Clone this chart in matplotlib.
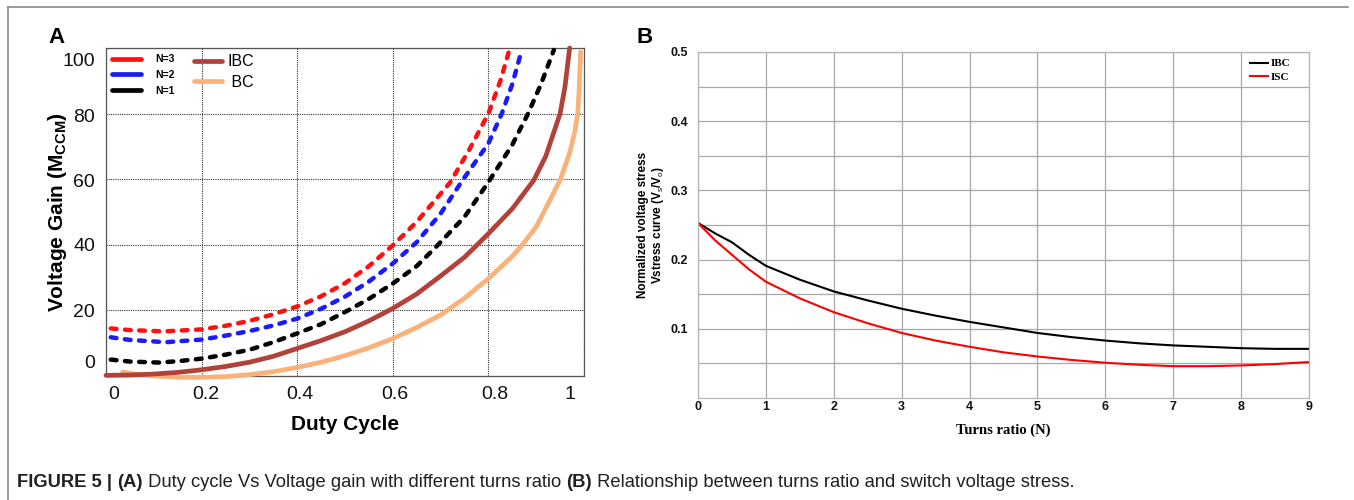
import matplotlib
matplotlib.use("Agg")
import matplotlib.pyplot as plt
from matplotlib.lines import Line2D
from matplotlib import font_manager as fm
from matplotlib.transforms import ScaledTranslation

# ---- Panel A: voltage gain vs duty cycle ----
d_n3 = [0.01, 0.05, 0.12, 0.20, 0.25, 0.30, 0.35, 0.40, 0.45, 0.50, 0.55, 0.60, 0.65, 0.72, 0.76, 0.80, 0.825, 0.845]
g_n3 = [14.5, 14.0, 13.6, 14.2, 15.3, 16.8, 18.8, 21.2, 24.3, 28.3, 33.5, 39.8, 47.0, 59.0, 69.0, 80.0, 90.0, 100.0]

d_n2 = [0.01, 0.05, 0.125, 0.20, 0.25, 0.30, 0.35, 0.40, 0.45, 0.50, 0.55, 0.60, 0.65, 0.70, 0.746, 0.80, 0.828, 0.85, 0.87]
g_n2 = [11.8, 11.0, 10.3, 11.1, 12.3, 13.7, 15.4, 17.5, 20.5, 24.2, 28.8, 34.3, 40.8, 49.5, 59.7, 70.9, 80.0, 89.0, 99.5]

d_n1 = [0.01, 0.05, 0.11, 0.15, 0.20, 0.25, 0.30, 0.35, 0.40, 0.45, 0.50, 0.55, 0.60, 0.65, 0.69, 0.75, 0.80, 0.85, 0.883, 0.91, 0.937]
g_n1 = [5.0, 4.4, 4.1, 4.5, 5.3, 6.5, 8.0, 10.3, 13.0, 15.8, 19.5, 23.5, 28.2, 33.5, 39.3, 48.5, 59.1, 70.5, 80.0, 89.0, 99.4]

d_ibc = [0.0, 0.05, 0.10, 0.15, 0.20, 0.25, 0.30, 0.35, 0.40, 0.45, 0.50, 0.55, 0.60, 0.65, 0.70, 0.75, 0.80, 0.85, 0.895, 0.92, 0.95, 0.96, 0.97]
g_ibc = [0.2, 0.3, 0.6, 1.1, 1.9, 2.9, 4.2, 6.0, 8.4, 10.8, 13.5, 16.8, 20.6, 25.0, 30.5, 36.2, 43.4, 51.0, 59.7, 67.0, 80.0, 88.0, 100.0]

d_bc = [0.035, 0.06, 0.10, 0.15, 0.20, 0.25, 0.30, 0.35, 0.40, 0.45, 0.50, 0.55, 0.60, 0.65, 0.70, 0.75, 0.80, 0.85, 0.87, 0.90, 0.93, 0.95, 0.97, 0.98, 0.987, 0.99, 0.993]
g_bc = [1.2, 0.6, 0.0, -0.4, -0.4, -0.2, 0.4, 1.3, 2.6, 4.2, 6.2, 8.6, 11.4, 14.8, 18.6, 23.7, 29.7, 36.5, 39.8, 45.5, 54.0, 59.7, 68.0, 74.0, 80.0, 88.0, 98.8]

a_xticks = [0, 0.2, 0.4, 0.6, 0.8, 1]
a_xlabels = ["0", "0.2", "0.4", "0.6", "0.8", "1"]
a_yticks = [0, 20, 40, 60, 80, 100]

# ---- Panel B: normalized switch voltage stress vs turns ratio ----
n_ratio = [0, 0.25, 0.5, 0.75, 1, 1.5, 2, 2.5, 3, 3.5, 4, 4.5, 5, 5.5, 6, 6.5, 7, 7.5, 8, 8.5, 9]
s_ibc = [0.253, 0.238, 0.225, 0.207, 0.191, 0.171, 0.154, 0.141, 0.129, 0.119, 0.110, 0.102, 0.094, 0.088, 0.083, 0.079, 0.076, 0.074, 0.072, 0.071, 0.071]
s_isc = [0.253, 0.228, 0.207, 0.186, 0.168, 0.144, 0.124, 0.108, 0.094, 0.083, 0.074, 0.066, 0.060, 0.055, 0.051, 0.048, 0.046, 0.046, 0.047, 0.049, 0.052]

b_xticks = list(range(10))
b_yticks = [0.1, 0.2, 0.3, 0.4, 0.5]

caption_parts = [
    ("FIGURE 5 | ", "bold"),
    ("(A)", "bold"),
    (" Duty cycle Vs Voltage gain with different turns ratio ", "normal"),
    ("(B)", "bold"),
    (" Relationship between turns ratio and switch voltage stress.", "normal"),
]

names = {f.name for f in fm.fontManager.ttflist}
sans = "Liberation Sans Narrow" if "Liberation Sans Narrow" in names else "Liberation Sans"
plt.rcParams["font.family"] = ["Liberation Sans", "DejaVu Sans"]
plt.rcParams["mathtext.fontset"] = "custom"
plt.rcParams["mathtext.rm"] = "Liberation Sans"
plt.rcParams["mathtext.bf"] = "Liberation Sans:bold"

W, H = 1354, 500
fig = plt.figure(figsize=(W / 100, H / 100), dpi=100)


def fx(px):
    return px / W


def fy(py):
    return 1 - py / H


def nudge(label, dx_px, dy_px):
    label.set_transform(label.get_transform()
                        + ScaledTranslation(dx_px / 100, dy_px / 100, fig.dpi_scale_trans))


# outer frame (top and left edges)
fig.add_artist(Line2D([fx(8), fx(1348)], [fy(7), fy(7)], color="#8a8a8a", lw=1.2))
fig.add_artist(Line2D([fx(8), fx(8)], [fy(7), fy(500)], color="#8a8a8a", lw=1.2))

# ================= Panel A =================
axA = fig.add_axes([fx(106), fy(376), fx(584) - fx(106), fy(48) - fy(376)])
axA.set_xlim(0, 1)
axA.set_ylim(0, 100)

c_red, c_blue, c_black = "#ff1010", "#1a1aff", "#000000"
c_ibc, c_bc = "#b2413a", "#fbb27a"
dash_kw = dict(lw=3.2, dashes=(1.3, 1.9), dash_capstyle="round", clip_on=False)
axA.plot(d_bc, g_bc, color=c_bc, lw=3.4, solid_capstyle="round", clip_on=False, zorder=3)
axA.plot(d_ibc, g_ibc, color=c_ibc, lw=3.4, solid_capstyle="round", clip_on=False, zorder=4)
axA.plot(d_n1, g_n1, color=c_black, zorder=5, **dash_kw)
axA.plot(d_n2, g_n2, color=c_blue, zorder=5, **dash_kw)
axA.plot(d_n3, g_n3, color=c_red, zorder=5, **dash_kw)

axA.set_xticks(a_xticks)
axA.set_xticklabels(a_xlabels, fontsize=14, family=sans)
axA.set_yticks(a_yticks)
axA.set_yticklabels([str(v) for v in a_yticks], fontsize=14, family=sans)
axA.tick_params(axis="both", length=0, colors="#111111")
axA.tick_params(axis="x", pad=7)
axA.tick_params(axis="y", pad=8)
axA.grid(True, color="#333333", lw=0.8, ls=(0, (1, 1)))
for s in axA.spines.values():
    s.set_color("#555555")
    s.set_linewidth(0.9)
    s.set_linestyle((0, (1, 1)))
# hand-placed tick label offsets
for tk, dx in zip(axA.xaxis.get_major_ticks(), [8, 4, 3, 2, 6, -14]):
    nudge(tk.label1, dx, 0)
for tk, dy in zip(axA.yaxis.get_major_ticks(), [14, 0, 0, -1, -2, -12]):
    nudge(tk.label1, 0, dy)

axA.set_xlabel("Duty Cycle", fontsize=15, fontweight="bold", family=sans, labelpad=9)
axA.set_ylabel(r"Voltage Gain (M$_{\mathbf{CCM}}$)", fontsize=15, fontweight="bold", family=sans, labelpad=-5)

legA1 = axA.legend(
    [Line2D([], [], color=c, lw=3.4, solid_capstyle="round") for c in (c_red, c_blue, c_black)],
    ["N=3", "N=2", "N=1"],
    loc="upper left", bbox_to_anchor=(0.0, 1.0), frameon=False,
    prop=dict(family="Liberation Sans", weight="bold", size=7.5),
    handlelength=2.8, handletextpad=1.3, labelspacing=0.55, borderpad=0.4, borderaxespad=0.2,
)
axA.add_artist(legA1)
axA.legend(
    [Line2D([], [], color=c, lw=3.4, solid_capstyle="round") for c in (c_ibc, c_bc)],
    ["IBC", " BC"],
    loc="upper left", bbox_to_anchor=(0.17, 1.0), frameon=False,
    prop=dict(family=sans, size=11.5),
    handlelength=1.8, handletextpad=0.3, labelspacing=0.35, borderpad=0.2, borderaxespad=0.2,
)

fig.text(fx(48), fy(43), "A", fontsize=16, fontweight="bold", ha="left", va="baseline")

# ================= Panel B =================
axB = fig.add_axes([fx(698), fy(398), fx(1309) - fx(698), fy(52) - fy(398)])
axB.set_xlim(0, 9)
axB.set_ylim(0, 0.5)
axB.plot(n_ratio, s_ibc, color="#000000", lw=1.5, label="IBC")
axB.plot(n_ratio, s_isc, color="#ff0000", lw=1.5, label="ISC")

axB.set_xticks(b_xticks)
axB.set_xticklabels([str(v) for v in b_xticks], fontsize=9, fontweight="bold")
axB.set_yticks(b_yticks)
axB.set_yticklabels([f"{v:.1f}" for v in b_yticks], fontsize=9, fontweight="bold")
axB.set_yticks([0.05, 0.15, 0.25, 0.35, 0.45], minor=True)
axB.tick_params(axis="both", which="both", length=0, colors="#111111")
axB.tick_params(axis="x", pad=2)
axB.tick_params(axis="y", pad=7)
axB.grid(True, which="both", color="#a8a8a8", lw=0.9)
for s in axB.spines.values():
    s.set_color("#b5b5b5")
    s.set_linewidth(0.9)

axB.set_xlabel("Turns ratio (N)", fontsize=10.5, fontweight="bold", family="Liberation Serif", labelpad=8)
axB.set_ylabel("Normalized voltage stress\nVstress curve (V$_\\mathrm{s}$/V$_\\mathrm{o}$)",
               fontsize=8.5, fontweight="bold", labelpad=3, linespacing=1.1)
axB.legend(loc="upper right", frameon=False, bbox_to_anchor=(1 - 12 / 611, 1.0),
           prop=dict(family="Liberation Serif", weight="bold", size=8),
           handlelength=1.7, handletextpad=0.2, labelspacing=0.35, borderpad=0.4, borderaxespad=0.2)

fig.text(fx(637), fy(43), "B", fontsize=16, fontweight="bold", ha="left", va="baseline")

# ================= Caption =================
renderer = fig.canvas.get_renderer()
x_px = 17
for txt, wt in caption_parts:
    t = fig.text(fx(x_px), fy(487), txt, fontsize=13.2, fontweight=wt, family=sans,
                 color="#231f20", ha="left", va="baseline")
    bb = t.get_window_extent(renderer=renderer)
    x_px += bb.width

fig.savefig("out.png", dpi=100)
